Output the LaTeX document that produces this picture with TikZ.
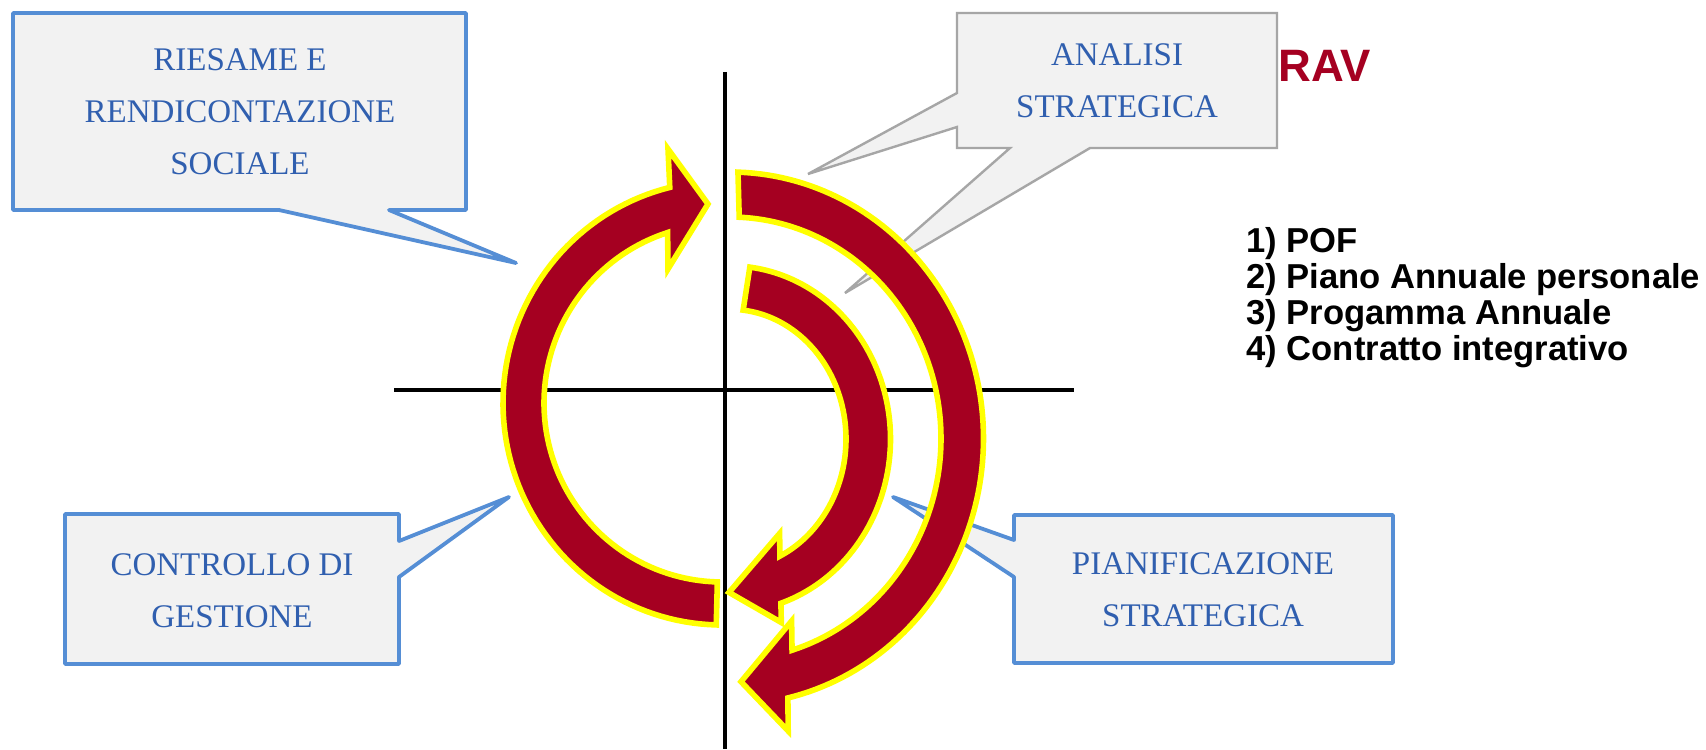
\documentclass[tikz,border=0pt]{standalone}
\usepackage{fontspec}
\setmainfont{Liberation Serif}
\newfontfamily\arialfont{Liberation Sans}
\definecolor{arrowred}{RGB}{165,0,33}
\definecolor{arrowyellow}{RGB}{255,255,0}
\definecolor{calloutblue}{RGB}{85,142,213}
\definecolor{calloutgrey}{RGB}{166,166,166}
\definecolor{calloutfill}{RGB}{242,242,242}
\definecolor{textblue}{RGB}{48,95,175}
\definecolor{ravred}{RGB}{165,0,33}
\begin{document}
\begin{tikzpicture}[x=0.5pt,y=-0.5pt,
  axisline/.style={line width=2pt,black},
  bluecall/.style={fill=calloutfill,draw=calloutblue,line width=1.9pt,line join=round},
  greycall/.style={fill=calloutfill,draw=calloutgrey,line width=1.2pt},
  cyclearrow/.style={fill=arrowred,draw=arrowyellow,line width=2.8pt,line join=miter},
  calltext/.style={inner sep=0pt,align=center,text=textblue,font=\fontsize{16.5}{26}\selectfont},
  listtext/.style={inner sep=0pt,anchor=base west,font=\arialfont\bfseries\fontsize{17.3}{18}\selectfont}]
\useasboundingbox[fill=white] (0,0) rectangle (1706,749);

% axes
\coordinate (vtop) at (725,72);
\coordinate (vbot) at (725,749);
\coordinate (hleft) at (394,390);
\coordinate (hright) at (1074,390);
\draw[axisline] (vtop) -- (vbot);
\draw[axisline] (hleft) -- (hright);

% callouts
\draw[bluecall] (13,13) -- (466,13) -- (466,210) -- (389,210) -- (516,263) -- (279,210) -- (13,210) -- cycle;
\draw[greycall] (957,13) -- (1277,13) -- (1277,148) -- (1090,148) -- (845,293) -- (1010,148) -- (957,148) -- (957,127) -- (808,174) -- (957,93) -- cycle;
\draw[bluecall] (65,514) -- (399,514) -- (399,541) -- (509,497) -- (399,577) -- (399,664) -- (65,664) -- cycle;
\draw[bluecall] (1014,515) -- (1393,515) -- (1393,663) -- (1014,663) -- (1014,577) -- (893,497) -- (1014,540) -- cycle;

% circular arrows
\draw[cyclearrow] plot[domain=91.5:256.2,samples=80] ({722+219*cos(\x)},{403+222*sin(\x)})
  -- (668,149) -- (708,204) -- (668,269)
  -- plot[domain=252.2:91.5,samples=80] ({722+178*cos(\x)},{403+179*sin(\x)}) -- cycle;
\draw[cyclearrow] plot[domain=271.8:436.8,samples=100] ({730+253.5*cos(\x)},{438.5+266.5*sin(\x)})
  -- (788.2,731) -- (741,681.7) -- (791.6,621)
  -- plot[domain=432.9:272.5,samples=100] ({730+211*cos(\x)},{438.5+221.5*sin(\x)}) -- cycle;
\draw[cyclearrow] plot[domain=277.1:431.5,samples=80] ({730+160.5*cos(\x)},{439+173.2*sin(\x)})
  -- (781.3,622.5) -- (729,592.4) -- (779.6,533.5)
  -- plot[domain=424.5:276.5,samples=80] ({730+116*cos(\x)},{439+129.7*sin(\x)}) -- cycle;

% texts
\node[calltext] (riesame) at (240,111.5) {RIESAME E\\RENDICONTAZIONE\\SOCIALE};
\node[calltext] (analisi) at (1117,81) {ANALISI\\STRATEGICA};
\node[calltext] (controllo) at (232,591) {CONTROLLO DI\\GESTIONE};
\node[calltext] (pianif) at (1203,590) {PIANIFICAZIONE\\STRATEGICA};

\node[inner sep=0pt,anchor=base west,text=ravred,font=\arialfont\bfseries\fontsize{22.7}{24}\selectfont] (rav) at (1278,82) {RAV};
\node[listtext] (l1) at (1246,252) {1) POF};
\node[listtext] (l2) at (1246,288) {2) Piano Annuale personale};
\node[listtext] (l3) at (1246,324) {3) Progamma Annuale};
\node[listtext] (l4) at (1246,360) {4) Contratto integrativo};
\end{tikzpicture}
\end{document}
